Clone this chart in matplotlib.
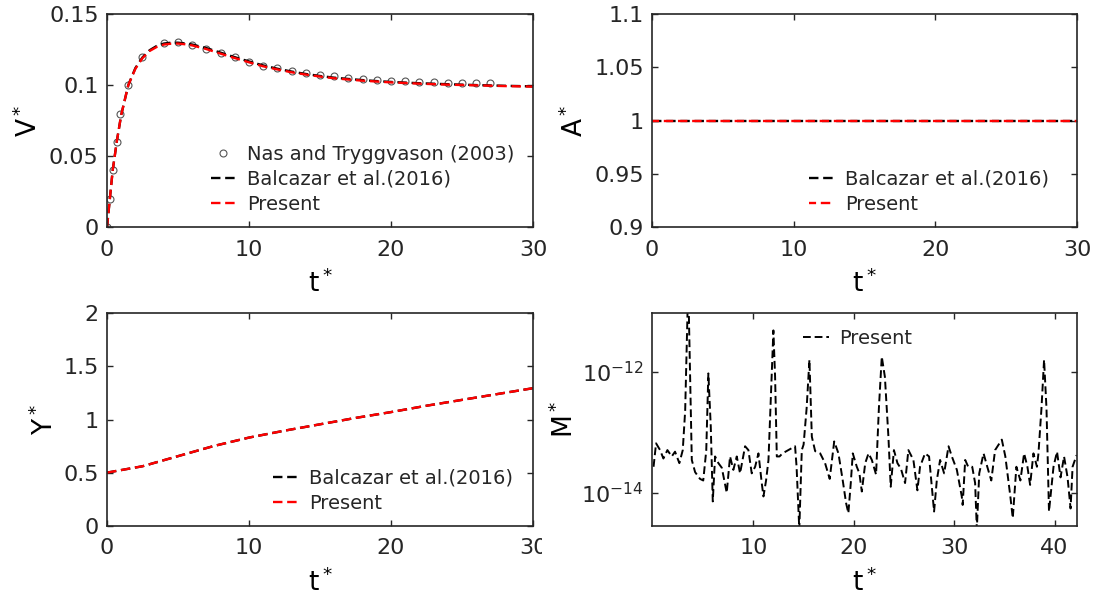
import numpy as np
import matplotlib
matplotlib.use('Agg')
import matplotlib.pyplot as plt
from matplotlib.patches import Rectangle
from matplotlib.ticker import NullLocator

# ── values ──────────────────────────────────────────────────────────────
# (a) rise velocity
T_NAS = [0, 0.2, 0.4, 0.67, 0.95, 1.5, 2.45, 4, 5, 6, 7, 8, 9, 10, 11, 12,
         13, 14, 15, 16, 17, 18, 19, 20, 21, 22, 23, 24, 25, 26, 27]
V_NAS = [0, 0.02, 0.04, 0.06, 0.08, 0.1, 0.12, 0.1296, 0.1303, 0.1284,
         0.1256, 0.1226, 0.1195, 0.1165, 0.1137, 0.1118, 0.1099, 0.1083,
         0.1073, 0.1062, 0.1052, 0.1045, 0.1034, 0.1031, 0.1026, 0.1024,
         0.1019, 0.1017, 0.1017, 0.1015, 0.1015]
T_V = [0, 0.2, 0.4, 0.7, 1.0, 1.5, 2.0, 2.5, 3.0, 3.5, 4.0, 4.5, 5.0, 5.5,
       6, 7, 8, 9, 10, 11, 12, 13, 14, 15, 16, 17, 18, 19, 20, 22, 24, 26,
       28, 30]
V_BALCAZAR = [0, 0.02, 0.04, 0.061, 0.079, 0.100, 0.112, 0.1195, 0.1245,
              0.1275, 0.1292, 0.1298, 0.1298, 0.1293, 0.1285, 0.126, 0.1228,
              0.1196, 0.1166, 0.1138, 0.1115, 0.1095, 0.1078, 0.1064, 0.1052,
              0.1043, 0.1035, 0.1028, 0.1022, 0.1013, 0.1006, 0.1000, 0.0995,
              0.0991]
V_PRESENT = [0, 0.02, 0.04, 0.061, 0.079, 0.100, 0.1115, 0.119, 0.124,
             0.1268, 0.1285, 0.1291, 0.1292, 0.1287, 0.1279, 0.1253, 0.1221,
             0.119, 0.116, 0.1132, 0.111, 0.109, 0.1074, 0.106, 0.1048,
             0.1039, 0.1031, 0.1025, 0.1019, 0.1010, 0.1003, 0.0998, 0.0993,
             0.0989]

# (b) normalised area
T_A = [0, 30]
A_BALCAZAR = [1.0, 1.0]
A_PRESENT = [1.0, 1.0]

# (c) vertical position
T_Y = [0, 2.5, 5, 7.5, 10, 12.5, 15, 17.5, 20, 22.5, 25, 27.5, 30]
Y_BALCAZAR = [0.5, 0.56, 0.655, 0.75, 0.83, 0.895, 0.955, 1.015, 1.07,
              1.13, 1.185, 1.24, 1.295]
Y_PRESENT = [0.5, 0.56, 0.655, 0.75, 0.83, 0.895, 0.955, 1.015, 1.07,
             1.13, 1.185, 1.24, 1.295]

# (d) mass error, in units of 1e-14
T_M = [0.05, 0.3, 0.7, 1.03, 1.43, 1.86, 2.19, 2.62, 2.96, 3.2, 3.45, 3.55,
       3.75, 3.86, 4.19, 4.68, 5.0, 5.3, 5.51, 5.75, 5.95, 6.18, 6.51, 6.85,
       7.34, 7.67, 8.0, 8.34, 8.67, 9.17, 9.5, 9.83, 10.17, 10.5, 10.83,
       11.0, 11.26, 11.5, 11.99, 12.16, 12.33, 12.6, 12.9, 13.48, 14.15,
       14.3, 14.48, 14.57, 14.82, 15.0, 15.3, 15.58, 15.82, 16.15, 16.65,
       17.14, 17.6, 18.05, 18.47, 18.9, 19.23, 19.46, 19.7, 19.9, 20.3,
       20.56, 20.8, 21.14, 21.47, 21.8, 22.22, 22.5, 22.79, 23.1, 23.45,
       23.68, 24.0, 24.35, 24.7, 25.11, 25.44, 25.94, 26.34, 26.6, 27.1,
       27.5, 27.87, 28.0, 28.27, 28.6, 29.0, 29.44, 29.77, 30.27, 30.76,
       30.85, 31.1, 31.4, 31.8, 32.09, 32.26, 32.5, 32.93, 33.3, 33.7, 34.08,
       34.75, 35.1, 35.4, 35.6, 35.84, 36.2, 36.6, 36.97, 37.3, 37.57, 37.9,
       38.25, 38.4, 38.7, 38.96, 39.2, 39.45, 39.9, 40.25, 40.6, 40.95,
       41.3, 41.6, 41.8, 42.2]
M_E14 = [2.7, 6.6, 5.1, 3.7, 5.1, 4.0, 4.8, 3.1, 5.1, 23, 1260, 1260,
         25, 3.5, 2.2, 1.7, 1.6, 5.0, 95, 12.6, 0.72, 4.0, 3.1, 2.6,
         1.0, 4.0, 2.4, 4.0, 2.1, 5.9, 5.1, 2.1, 2.7, 4.5, 1.45,
         0.87, 1.6, 3.5, 490, 83, 4.0, 4.0, 4.5, 5.1, 5.9,
         2.7, 0.52, 0.25, 5.1, 6.3, 25, 160, 8.5, 4.9, 4.5,
         3.1, 1.7, 7.1, 4.5, 1.6, 0.68, 0.46, 1.45, 4.5, 2.7,
         2.1, 1.05, 3.1, 4.5, 3.5, 2.0, 25, 180, 83, 8.5,
         1.26, 5.1, 3.1, 2.5, 1.45, 5.1, 3.5, 1.1, 2.7, 4.5,
         4.0, 0.87, 0.49, 1.6, 3.5, 2.1, 5.9, 4.0, 2.4, 0.87,
         0.63, 3.5, 2.7, 2.7, 1.45, 0.25, 2.1, 4.5, 2.7, 1.6, 5.1,
         7.6, 4.0, 1.6, 0.87, 0.38, 2.7, 1.6, 4.5, 2.7, 1.35, 4.5,
         2.7, 4.5, 25, 160, 25, 0.49, 2.7, 4.8, 1.8, 4.0,
         1.8, 0.55, 2.7, 4.2]

INK = '#262626'
DASH = (0, (4, 2))
LW = 1.7

plt.rcParams.update({
    'font.family': 'DejaVu Sans',
    'mathtext.fontset': 'dejavusans',
    'axes.unicode_minus': False,
    'text.color': INK,
    'axes.edgecolor': INK,
    'axes.linewidth': 1.2,
    'xtick.color': INK, 'ytick.color': INK,
    'xtick.direction': 'in', 'ytick.direction': 'in',
    'xtick.top': True, 'ytick.right': True,
    'xtick.major.size': 4, 'ytick.major.size': 4,
    'xtick.major.width': 1.0, 'ytick.major.width': 1.0,
    'xtick.major.pad': 9, 'ytick.major.pad': 6,
    'xtick.labelsize': 16, 'ytick.labelsize': 16,
})

fig = plt.figure(figsize=(11.02, 6.0), dpi=100)
ax_v = fig.add_axes([0.0971, 0.6212, 0.3866, 0.3555])
ax_a = fig.add_axes([0.5917, 0.6212, 0.3857, 0.3555])
ax_y = fig.add_axes([0.0971, 0.1238, 0.3866, 0.3540])
ax_m = fig.add_axes([0.5917, 0.1238, 0.3857, 0.3540])

LEG = dict(frameon=False, loc='upper left', borderaxespad=0, borderpad=0,
           handlelength=1.3, handletextpad=0.55, labelspacing=0.31,
           fontsize=14)


def style(ax, ylab, ylab_x):
    ax.set_xlabel('t$^*$', fontsize=19)
    ax.xaxis.set_label_coords(0.5, -0.2)
    ax.set_ylabel(ylab, fontsize=19)
    ax.yaxis.set_label_coords(ylab_x, 0.5)


# (a)
ax_v.plot(T_NAS, V_NAS, 'o', ms=5, mfc='none', mec='#555555', mew=0.8,
          label='Nas and Tryggvason (2003)')
ax_v.plot(T_V, V_BALCAZAR, color='black', lw=LW, ls=DASH,
          label='Balcazar et al.(2016)')
ax_v.plot(T_V, V_PRESENT, color='red', lw=LW, ls=DASH, label='Present')
ax_v.set_xlim(0, 30)
ax_v.set_ylim(0, 0.15)
ax_v.set_xticks([0, 10, 20, 30])
ax_v.set_yticks([0, 0.05, 0.1, 0.15])
ax_v.set_yticklabels(['0', '0.05', '0.1', '0.15'])
style(ax_v, 'V$^*$', -0.15)
ax_v.legend(bbox_to_anchor=(0.2435, 0.386), **LEG)

# (b)
ax_a.plot(T_A, A_BALCAZAR, color='black', lw=LW, ls=DASH,
          label='Balcazar et al.(2016)')
ax_a.plot(T_A, A_PRESENT, color='red', lw=LW, ls=(1, (4, 2)),
          label='Present')
ax_a.set_xlim(0, 30)
ax_a.set_ylim(0.9, 1.1)
ax_a.set_xticks([0, 10, 20, 30])
ax_a.set_yticks([0.9, 0.95, 1.0, 1.05, 1.1])
ax_a.set_yticklabels(['0.9', '0.95', '1', '1.05', '1.1'])
style(ax_a, 'A$^*$', -0.149)
ax_a.legend(bbox_to_anchor=(0.369, 0.269), **LEG)

# (c)
ax_y.plot(T_Y, Y_BALCAZAR, color='black', lw=LW, ls=DASH,
          label='Balcazar et al.(2016)')
ax_y.plot(T_Y, Y_PRESENT, color='red', lw=LW, ls=DASH, label='Present')
ax_y.set_xlim(0, 30)
ax_y.set_ylim(0, 2)
ax_y.set_xticks([0, 10, 20, 30])
ax_y.set_yticks([0, 0.5, 1, 1.5, 2])
ax_y.set_yticklabels(['0', '0.5', '1', '1.5', '2'])
style(ax_y, 'Y$^*$', -0.112)
ax_y.legend(bbox_to_anchor=(0.39, 0.268), **LEG)

# (d)
ax_m.plot(T_M, np.array(M_E14) * 1e-14, color='black', lw=1.4, ls=DASH,
          label='Present')
ax_m.set_yscale('log')
ax_m.set_xlim(-0.1, 42.25)
ax_m.set_ylim(2.85e-15, 9.4e-12)
ax_m.set_xticks([10, 20, 30, 40])
ax_m.set_yticks([1e-14, 1e-12])
ax_m.yaxis.set_minor_locator(NullLocator())
style(ax_m, 'M$^*$', -0.173)
ax_m.legend(bbox_to_anchor=(0.356, 0.927), **LEG)

# the bottom-left panel was cut off just past its last tick label
fig.add_artist(Rectangle((542 / 1102, 0.058), 16 / 1102, 0.062,
                         transform=fig.transFigure, facecolor='white',
                         edgecolor='none', zorder=10))

fig.savefig('out.png', dpi=100)
